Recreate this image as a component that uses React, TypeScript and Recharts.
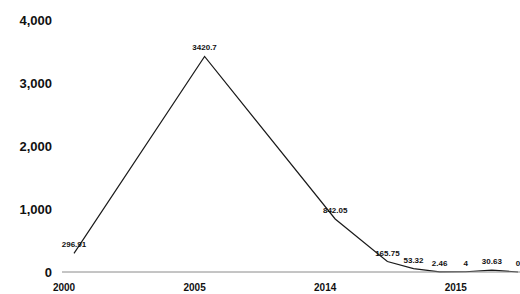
import { LabelList, Line, LineChart, XAxis, YAxis } from "recharts";

// x positions are slots on the category axis; years only label every fifth slot
const positions = [0, 5, 10, 12, 13, 14, 15, 16, 17];
const values = [296.91, 3420.7, 842.05, 165.75, 53.32, 2.46, 4, 30.63, 0];
const tickPositions = [0, 5, 10, 15];
const tickLabels = ["2000", "2005", "2014", "2015"];
const yTicks = [0, 1000, 2000, 3000, 4000];

const data = positions.map((pos, i) => ({ pos, value: values[i] }));

const fontFamily = "'Liberation Sans', Arial, sans-serif";

export default function App() {
  return (
    <div style={{ position: "absolute", left: 0, top: 0, width: 520, height: 294, background: "#fff" }}>
      <LineChart width={520} height={294} data={data} margin={{ top: 20, right: 0, bottom: 0, left: 0 }}>
        <XAxis
          dataKey="pos"
          type="number"
          domain={[0, 17]}
          ticks={tickPositions}
          tickFormatter={(v: number) => tickLabels[tickPositions.indexOf(v)] ?? ""}
          padding={{ left: 12, right: 2 }}
          height={22}
          tickLine={false}
          tickSize={0}
          tickMargin={12}
          stroke="#8a8a8a"
          tick={{ fill: "#111", fontSize: 10, fontWeight: 700, fontFamily, dx: -10 }}
        />
        <YAxis
          type="number"
          domain={[0, 4000]}
          ticks={yTicks}
          width={62}
          axisLine={false}
          tickLine={false}
          tickSize={0}
          tickMargin={10}
          tickFormatter={(v: number) => v.toLocaleString("en-US")}
          tick={{ fill: "#111", fontSize: 13, fontWeight: 700, fontFamily }}
        />
        <Line
          type="linear"
          dataKey="value"
          stroke="#1a1a1a"
          strokeWidth={1.2}
          dot={false}
          isAnimationActive={false}
        >
          <LabelList
            dataKey="value"
            position="top"
            offset={6}
            formatter={(v: number) => String(v)}
            style={{ fill: "#111", fontSize: 8, fontWeight: 700, fontFamily }}
          />
        </Line>
      </LineChart>
    </div>
  );
}
